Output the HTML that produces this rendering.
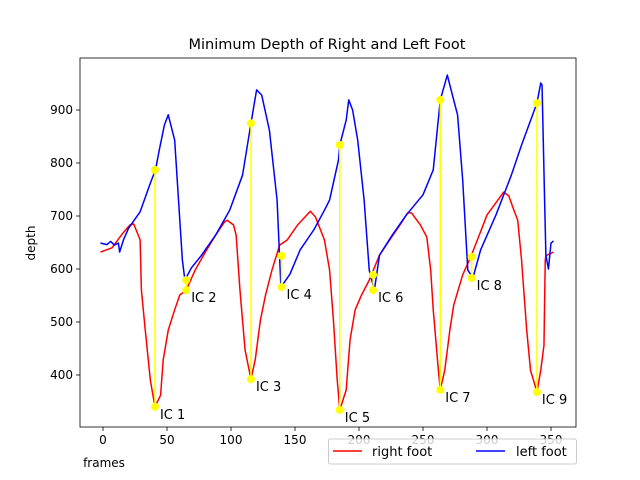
<!DOCTYPE html>
<html><head><meta charset="utf-8"><style>
body{margin:0;background:#fff}
svg{display:block;font-family:"DejaVu Sans","Liberation Sans",sans-serif}
</style></head><body>
<svg id="chart" width="640" height="480">
<text x="327" y="49" text-anchor="middle" font-size="14.5">Minimum Depth of Right and Left Foot</text>
<text x="35" y="243" text-anchor="middle" font-size="12" transform="rotate(-90 35 243)">depth</text>
<text x="104" y="467" text-anchor="middle" font-size="12">frames</text>
<g id="plot"></g>
</svg>
<script>
const xTicks=[0,50,100,150,200,250,300,350];
const yTicks=[400,500,600,700,800,900];
const redFrames=[-2,7,15,21,24,29,30,33,37,40.6,45,47,51,56,60,65,72,80,88,95,97,102,104,107,111,115.6,119,123,127,132,138,144,152,162,166,173,177,180,183,185,190,193,197,202,208,216,224,232,238,241,248,253,256,258,262,263.5,267,271,274,281,287,293,300,313,317,321,324,327,331,334,339,342,344.5,345.5,346,352];
const redDepth=[632,640,666,683,685,655,560,485,390,340,362,428,485,523,551,560,598,632,664,689,692,683,664,560,447,392,430,504,551,598,645,655,683,709,698,655,598,504,390,334,372,466,523,551,579,626,655,683,706,706,683,660,598,523,409,372,409,485,532,589,621,658,702,745,738,711,692,617,485,409,368,409,456,617,625,632];
const blueFrames=[-2,3,6,9,12,13,16,20,29,37,41,44,48,51,52,56,59,62,64,69,77,88,99,109,115.6,120,124,130,136,139,146,154,165,173,177,184,185,190,192,195,199,204,208,212,216,226,237,250,258,263.5,269,273,277,281,285,289,295,307,319,327,339,342,343,345,346,348,350,352];
const blueDepth=[649,646,652,645,649,632,655,677,708,762,787,825,872,891,881,843,730,617,579,602,626,664,711,777,875,938,928,862,730,566,590,636,675,711,730,806,834,881,919,900,843,730,598,560,626,664,702,740,787,919,966,928,891,768,598,583,636,702,777,834,913,951,947,730,626,600,649,653];
const icFrames=[40.6,65,115.6,139.5,185,211,263.5,288,339];
const icBottom=[340,560,392,566,334,560,372,583,368];
const icTop=[787,579,875,625,834,589,919,623,913];
const icLabels=["IC 1","IC 2","IC 3","IC 4","IC 5","IC 6","IC 7","IC 8","IC 9"];

const L=80,R=576,T=58,B=427;
const sx=f=>103+f*1.28;
const sy=d=>110+(900-d)*0.53;
const NS="http://www.w3.org/2000/svg";
const g=document.getElementById('plot');
function el(tag,attrs,parent){const e=document.createElementNS(NS,tag);for(const k in attrs)e.setAttribute(k,attrs[k]);(parent||g).appendChild(e);return e;}

// ticks
xTicks.forEach(t=>{
  const ln=el('line',{x1:sx(t),x2:sx(t),y1:B,y2:B+4,stroke:'#000','stroke-width':0.8});
  
  
  const tx=el('text',{x:sx(t),y:B+17,'text-anchor':'middle','font-size':12});
  tx.textContent=t;
  
  
});
yTicks.forEach(t=>{
  const ln=el('line',{x1:L-4,x2:L,y1:sy(t),y2:sy(t),stroke:'#000','stroke-width':0.8});
  
  
  const tx=el('text',{x:L-7,y:sy(t)+4,'text-anchor':'end','font-size':12});
  tx.textContent=t;
  
  
});

const clip=el('clipPath',{id:'cp'});el('rect',{x:L,y:T,width:R-L,height:B-T},clip);
const pg=el('g',{'clip-path':'url(#cp)'});
function line(fr,dp,color,name){
  const p=el('polyline',{points:fr.map((f,i)=>sx(f)+','+sy(dp[i])).join(' '),fill:'none',stroke:color,'stroke-width':1.5,'stroke-linejoin':'round'},pg);
  
  
}
line(redFrames,redDepth,'#ff0000','right-foot-line');
line(blueFrames,blueDepth,'#0000ff','left-foot-line');
icFrames.forEach((f,i)=>{
  const v=el('line',{x1:sx(f),x2:sx(f),y1:sy(icBottom[i]),y2:sy(icTop[i]),stroke:'#ffff00','stroke-width':1.5},pg);
  
  
  [icBottom[i],icTop[i]].forEach(d=>{
    const c=el('circle',{cx:sx(f),cy:sy(d),r:4,fill:'#ffff00'},pg);
    
    
  });
  const t=el('text',{x:sx(f)+5,y:sy(icBottom[i])+12,'font-size':13});
  t.textContent=icLabels[i];
  
  
});
const frame=el('rect',{x:L,y:T,width:R-L,height:B-T,fill:'none',stroke:'#000','stroke-width':0.8});



// legend
const lg=el('g',{});


el('rect',{x:328.5,y:439,width:248,height:25,rx:2,fill:'#fff','fill-opacity':0.8,stroke:'#ccc'},lg);
el('line',{x1:333,x2:362,y1:451,y2:451,stroke:'#ff0000','stroke-width':1.5},lg);
const t1=el('text',{x:372,y:456,'font-size':13},lg);t1.textContent='right foot';


el('line',{x1:476,x2:505,y1:451,y2:451,stroke:'#0000ff','stroke-width':1.5},lg);
const t2=el('text',{x:516,y:456,'font-size':13},lg);t2.textContent='left foot';


</script>
</body></html>
